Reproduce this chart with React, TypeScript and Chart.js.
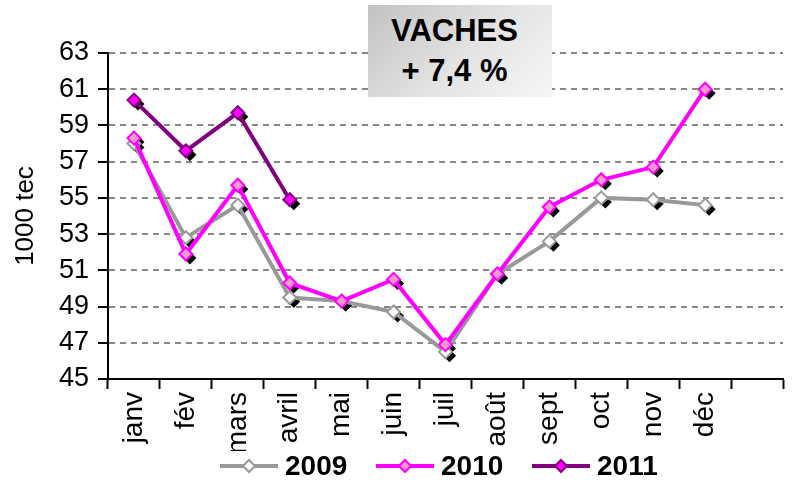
import React, { useEffect, useRef } from 'react';
import { Chart, registerables } from 'chart.js';

Chart.register(...registerables);

const months = ['janv', 'fév', 'mars', 'avril', 'mai', 'juin', 'juil', 'août', 'sept', 'oct', 'nov', 'déc', ''];
const values2009 = [58.0, 52.8, 54.6, 49.5, 49.3, 48.7, 46.5, 50.8, 52.6, 55.0, 54.9, 54.6, null];
const values2010 = [58.3, 51.9, 55.7, 50.3, 49.3, 50.5, 46.9, 50.8, 54.5, 56.0, 56.7, 61.0, null];
const values2011 = [60.4, 57.6, 59.7, 54.9, null, null, null, null, null, null, null, null, null];
const yTickValues = [45, 47, 49, 51, 53, 55, 57, 59, 61, 63];
const seriesNames = ['2009', '2010', '2011'];
const titleLines = ['VACHES', '+ 7,4 %'];
const yAxisTitle = '1000 tec';

const FONT = "'Liberation Sans', Arial, Helvetica, sans-serif";

const lineColors = ['#999999', '#FF00FF', '#800080'];
const markerFills = ['#FFFFFF', '#FF99CC', '#FF00FF'];
const markerBorders = ['#999999', '#FF00FF', '#800080'];

const shadowPlugin = {
  id: 'markerShadow',
  beforeDatasetsDraw(chart: any) {
    const ctx = chart.ctx;
    ctx.save();
    ctx.fillStyle = '#000000';
    chart.data.datasets.forEach((ds: any, i: number) => {
      const meta = chart.getDatasetMeta(i);
      meta.data.forEach((pt: any, j: number) => {
        if (ds.data[j] == null) return;
        const x = pt.x + 4;
        const y = pt.y + 4;
        const r = 6.5;
        ctx.beginPath();
        ctx.moveTo(x - r, y);
        ctx.lineTo(x, y - r);
        ctx.lineTo(x + r, y);
        ctx.lineTo(x, y + r);
        ctx.closePath();
        ctx.fill();
      });
    });
    ctx.restore();
  },
};

function LegendMarker({ i }: { i: number }) {
  return (
    <svg width={58} height={16} style={{ display: 'block' }}>
      <line x1={0} y1={8} x2={58} y2={8} stroke={lineColors[i]} strokeWidth={4} />
      <polygon
        points="23,8 29,2 35,8 29,14"
        fill={markerFills[i]}
        stroke={markerBorders[i]}
        strokeWidth={2}
      />
    </svg>
  );
}

export default function App() {
  const canvasRef = useRef<HTMLCanvasElement | null>(null);

  useEffect(() => {
    const canvas = canvasRef.current;
    if (!canvas) return;
    const seriesValues = [values2009, values2010, values2011];
    const datasets = seriesValues.map((vals, i) => ({
      label: seriesNames[i],
      data: vals,
      borderColor: lineColors[i],
      backgroundColor: markerFills[i],
      borderWidth: 4,
      pointStyle: 'rectRot',
      pointRadius: 6.5,
      pointBorderWidth: 2,
      pointBackgroundColor: markerFills[i],
      pointBorderColor: markerBorders[i],
      tension: 0,
      spanGaps: false,
      order: 3 - i,
    }));

    const chart = new Chart(canvas, {
      type: 'line',
      data: { labels: months, datasets },
      plugins: [shadowPlugin],
      options: {
        responsive: false,
        animation: false,
        devicePixelRatio: 1,
        layout: { padding: { top: 53, right: 0, bottom: 44, left: 0 } },
        plugins: {
          tooltip: { enabled: false },
          title: { display: false },
          legend: { display: false },
        },
        scales: {
          x: {
            type: 'category',
            offset: true,
            grid: {
              offset: true,
              drawOnChartArea: false,
              drawTicks: true,
              tickLength: 10,
              tickColor: '#000000',
              tickWidth: 2,
            },
            border: { display: true, color: '#000000', width: 2 },
            ticks: {
              autoSkip: false,
              minRotation: 90,
              maxRotation: 90,
              padding: 3,
              color: '#000000',
              font: { family: FONT, size: 28 },
            },
            afterFit: (scale: any) => {
              scale.height = 72;
            },
          },
          y: {
            min: 45,
            max: 63,
            afterBuildTicks: (scale: any) => {
              scale.ticks = yTickValues.map((v) => ({ value: v }));
            },
            grid: {
              color: (ctx: any) => (ctx.tick && ctx.tick.value === 45 ? 'rgba(0,0,0,0)' : '#888888'),
              lineWidth: 2,
              drawTicks: true,
              tickLength: 10,
              tickColor: '#000000',
              tickWidth: 2,
            },
            border: { display: true, color: '#000000', width: 2, dash: [6, 5] },
            ticks: {
              padding: 9,
              color: '#000000',
              font: { family: FONT, size: 27 },
            },
            title: {
              display: true,
              text: yAxisTitle,
              color: '#000000',
              font: { family: FONT, size: 26 },
              padding: { top: 10, bottom: 0 },
            },
            afterFit: (scale: any) => {
              scale.width = 108;
            },
          },
        },
      },
    } as any);

    return () => {
      chart.destroy();
    };
  }, []);

  return (
    <div
      style={{
        position: 'absolute',
        left: 0,
        top: 0,
        width: 792,
        height: 495,
        overflow: 'hidden',
        background: '#ffffff',
      }}
    >
      <canvas ref={canvasRef} width={794} height={495} style={{ display: 'block', width: 794, height: 495 }} />
      <div
        style={{
          position: 'absolute',
          left: 368,
          top: 5,
          width: 184,
          height: 92,
          boxSizing: 'border-box',
          paddingRight: 11,
          background: 'linear-gradient(135deg, #c2c2c2 0%, #e4e4e4 55%, #f6f6f6 100%)',
          fontFamily: FONT,
          fontWeight: 'bold',
          fontSize: 31,
          color: '#000000',
          display: 'flex',
          flexDirection: 'column',
          alignItems: 'center',
          justifyContent: 'center',
          lineHeight: '40px',
        }}
      >
        {titleLines.map((t) => (
          <div key={t}>{t}</div>
        ))}
      </div>
      {seriesNames.map((name, i) => (
        <div
          key={name}
          style={{
            position: 'absolute',
            left: 220 + i * 156,
            top: 450,
            height: 32,
            display: 'flex',
            alignItems: 'center',
            fontFamily: FONT,
            fontWeight: 'bold',
            fontSize: 28,
            color: '#000000',
          }}
        >
          <LegendMarker i={i} />
          <span style={{ marginLeft: 7, lineHeight: '32px' }}>{name}</span>
        </div>
      ))}
    </div>
  );
}
